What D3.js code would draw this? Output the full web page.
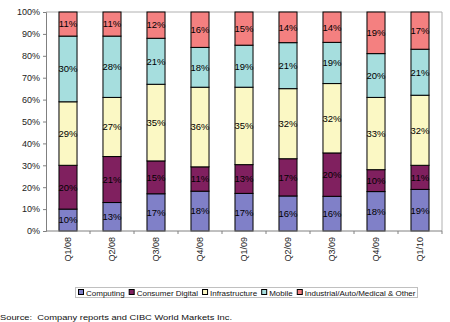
<!DOCTYPE html>
<html>
<head>
<meta charset="utf-8">
<script src="https://cdn.jsdelivr.net/npm/d3@7"></script>
<style>
  html, body { margin: 0; padding: 0; background: #fff; }
  svg { display: block; font-family: "Liberation Sans", Arial, sans-serif; }
</style>
</head>
<body>
<svg id="chart" width="450" height="322"></svg>
<script>
// Revenue mix by end market, per quarter (percent)
const quarters = ["Q1/08", "Q2/08", "Q3/08", "Q4/08", "Q1/09", "Q2/09", "Q3/09", "Q4/09", "Q1/10"];
const seriesNames = ["Computing", "Consumer Digital", "Infrastructure", "Mobile", "Industrial/Auto/Medical & Other"];
const computing       = [10, 13, 17, 18, 17, 16, 16, 18, 19];
const consumerDigital = [20, 21, 15, 11, 13, 17, 20, 10, 11];
const infrastructure  = [29, 27, 35, 36, 35, 32, 32, 33, 32];
const mobile          = [30, 28, 21, 18, 19, 21, 19, 20, 21];
const industrial      = [11, 11, 12, 16, 15, 14, 14, 19, 17];
const yTicks = [0, 0.1, 0.2, 0.3, 0.4, 0.5, 0.6, 0.7, 0.8, 0.9, 1.0];
const colors = ["#8080C8", "#80205F", "#FBF8C4", "#A6DEDE", "#F48080"];
const sourceText = "Source:  Company reports and CIBC World Markets Inc.";

const seriesValues = [computing, consumerDigital, infrastructure, mobile, industrial];
const rows = quarters.map((q, i) => {
  const r = { quarter: q };
  seriesNames.forEach((s, j) => { r[s] = seriesValues[j][i]; });
  return r;
});

const svg = d3.select("#chart");
const plot = { left: 46, right: 442, top: 12, bottom: 231 };

const x = d3.scaleBand().domain(quarters).range([plot.left, plot.right]).paddingInner(0.59).paddingOuter(0.295);
const xBand = d3.scaleBand().domain(quarters).range([plot.left, plot.right]);
const y = d3.scaleLinear().domain([0, 1]).range([plot.bottom, plot.top]);

const stack = d3.stack().keys(seriesNames).offset(d3.stackOffsetExpand);
const layers = stack(rows);

// plot frame (top and right edges in grey)
svg.append("path")
  .attr("d", `M${plot.left},${plot.top}H${plot.right}V${plot.bottom}`)
  .attr("fill", "none").attr("stroke", "#b0b0b0").attr("stroke-width", 1);

// stacked bars
const g = svg.append("g");
layers.forEach((layer, j) => {
  const lg = g.append("g");
  lg.selectAll("rect").data(layer).join("rect")
    .attr("x", d => x(d.data.quarter))
    .attr("width", x.bandwidth())
    .attr("y", d => y(d[1]))
    .attr("height", d => y(d[0]) - y(d[1]))
    .attr("fill", colors[j])
    .attr("stroke", "#000").attr("stroke-width", 1);
  lg.selectAll("text").data(layer).join("text")
    .attr("x", d => x(d.data.quarter) + x.bandwidth() / 2)
    .attr("y", d => (y(d[0]) + y(d[1])) / 2)
    .attr("dy", "0.35em")
    .attr("text-anchor", "middle")
    .attr("font-size", 9.5)
    .attr("fill", "#000")
    .text(d => d.data[layer.key] + "%");
});

// y axis
const yAxis = d3.axisLeft(y).tickValues(yTicks).tickFormat(d3.format(".0%")).tickSize(3);
const ya = svg.append("g").attr("transform", `translate(${plot.left},0)`).call(yAxis);
ya.select(".domain").attr("stroke", "#808080");
ya.selectAll(".tick line").attr("stroke", "#808080");
ya.selectAll(".tick text").attr("font-size", 9).attr("fill", "#222")
  .attr("font-family", "'Liberation Sans', Arial, sans-serif");

// x axis with ticks at category boundaries
const xa = svg.append("g").attr("transform", `translate(0,${plot.bottom})`);
xa.append("line").attr("x1", plot.left).attr("x2", plot.right)
  .attr("stroke", "#808080");
xa.selectAll("line.tk").data(quarters).join("line").attr("class", "tk")
  .attr("x1", d => xBand(d) + xBand.bandwidth()).attr("x2", d => xBand(d) + xBand.bandwidth())
  .attr("y1", 0).attr("y2", 3).attr("stroke", "#808080");
xa.selectAll("text").data(quarters).join("text")
  .attr("transform", d => `translate(${x(d) + x.bandwidth() / 2},6) rotate(-90)`)
  .attr("text-anchor", "end")
  .attr("dy", "0.35em")
  .attr("font-size", 9)
  .attr("fill", "#222")
  .text(d => d);

// legend
const legend = svg.append("g");
legend.append("rect").attr("x", 75.5).attr("y", 287.5).attr("width", 342).attr("height", 10)
  .attr("fill", "#fff").attr("stroke", "#c0c0c0");
let lx = 78;
seriesNames.forEach((s, j) => {
  legend.append("rect").attr("x", lx + 0.5).attr("y", 289.5).attr("width", 5).attr("height", 5)
    .attr("fill", colors[j]).attr("stroke", "#000").attr("stroke-width", 1);
  const t = legend.append("text").attr("x", lx + 8).attr("y", 295.5)
    .attr("font-size", 8).attr("fill", "#111").text(s);
  lx += 8 + t.node().getComputedTextLength() + 4;
});

// source note
svg.append("text").attr("x", 0).attr("y", 320)
  .attr("font-size", 7.5).attr("fill", "#111")
  .attr("textLength", 232).attr("lengthAdjust", "spacingAndGlyphs")
  .attr("xml:space", "preserve")
  .text(sourceText);
</script>
</body>
</html>
